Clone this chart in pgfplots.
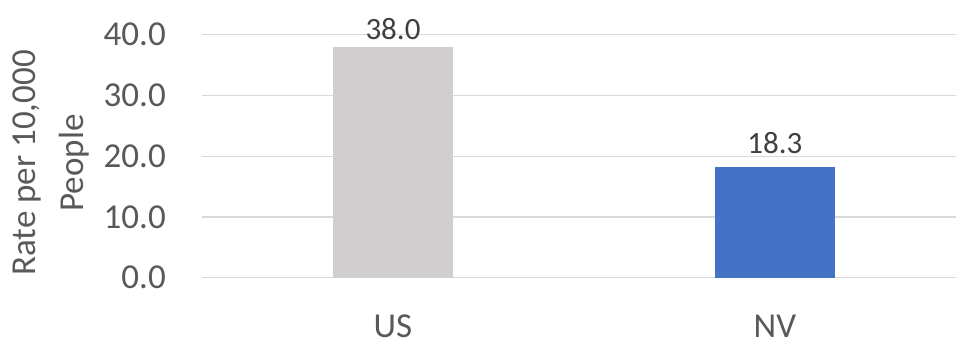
\documentclass[border=0pt]{standalone}
\usepackage{pgfplots}
\pgfplotsset{compat=1.18}
\usepackage{fontspec}
\setmainfont{Carlito}
\definecolor{usgray}{HTML}{D0CECE}
\definecolor{nvblue}{HTML}{4472C4}
\definecolor{gridc}{HTML}{D9D9D9}
\definecolor{tickc}{HTML}{595959}
\definecolor{datac}{HTML}{404040}
\begin{document}
\begin{tikzpicture}
\path[use as bounding box] (0,0) rectangle (956bp,341bp);
\begin{axis}[
  at={(202bp,63.3bp)}, anchor=south west,
  scale only axis, width=754bp, height=243bp,
  xmin=-0.5, xmax=1.474, ymin=0, ymax=40,
  ytick={0,10,20,30,40},
  xtick={0,1}, xticklabels={US,NV},
  axis line style={draw=none},
  major tick length=0pt,
  ymajorgrids, grid style={gridc, line width=1.3bp},
  /pgf/number format/assume math mode=true,
  yticklabel style={/pgf/number format/.cd, fixed, fixed zerofill, precision=1, /tikz/.cd,
    font=\fontsize{35bp}{42bp}\selectfont, text=tickc, inner sep=0pt, anchor=east, xshift=-36bp},
  xticklabel style={font=\fontsize{35bp}{42bp}\selectfont, text=tickc, inner sep=0pt, anchor=north, yshift=-37bp},
  ylabel={Rate per 10,000\\People},
  every axis y label/.style={at={(axis description cs:-0.2507,0.472)}, rotate=90, anchor=north,
    align=center, inner sep=0pt, font=\fontsize{35bp}{48bp}\selectfont, text=tickc},
  ybar, bar shift=0pt, bar width=0.314,
  nodes near coords,
  nodes near coords style={/pgf/number format/.cd, fixed, fixed zerofill, precision=1, /tikz/.cd,
    font=\fontsize{31bp}{37bp}\selectfont, text=datac},
]
\addplot[fill=usgray, draw=none, every node near coord/.append style={yshift=3.6bp}] coordinates {(0,38.0)};
\addplot[fill=nvblue, draw=none, every node near coord/.append style={yshift=9.5bp}] coordinates {(1,18.3)};
\end{axis}
\end{tikzpicture}
\end{document}
